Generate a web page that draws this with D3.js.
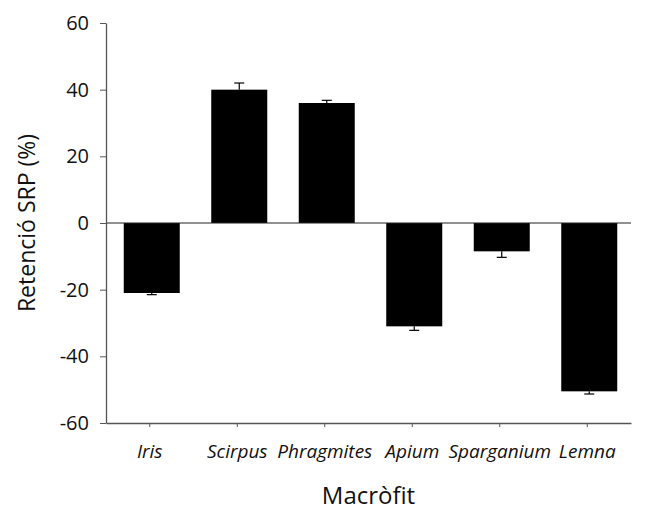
<!DOCTYPE html>
<html>
<head>
<meta charset="utf-8">
<script src="https://cdn.jsdelivr.net/npm/d3@7"></script>
<style>
body { margin: 0; background: #fff; }
svg text { font-family: "Open Sans", "DejaVu Sans", sans-serif; fill: #111; }
</style>
</head>
<body>
<div id="chart"></div>
<script>
var categories = ["Iris", "Scirpus", "Phragmites", "Apium", "Sparganium", "Lemna"];
var retention = [-21, 40, 36, -31, -8.5, -50.5];
var errors = [0.5, 2, 0.8, 1.2, 1.8, 0.8];
var yTicks = [-60, -40, -20, 0, 20, 40, 60];

var WIDTH = 655, HEIGHT = 510;
var margin = {top: 23, right: 24, bottom: 87, left: 106};

var svg = d3.select("#chart").append("svg")
    .attr("width", WIDTH)
    .attr("height", HEIGHT);

var x = d3.scaleBand()
    .domain(categories)
    .range([margin.left, WIDTH - margin.right])
    .paddingInner(0.36)
    .paddingOuter(0.18);

var y = d3.scaleLinear()
    .domain([-60, 60])
    .range([HEIGHT - margin.bottom, margin.top]);

var data = categories.map(function(c, i){
    return {name: c, value: retention[i], err: errors[i]};
});

// bars
svg.append("g").selectAll("rect")
    .data(data)
    .enter().append("rect")
    .attr("x", function(d){ return x(d.name) + 2; })
    .attr("width", x.bandwidth())
    .attr("y", function(d){ return y(Math.max(0, d.value)); })
    .attr("height", function(d){ return Math.abs(y(d.value) - y(0)); })
    .attr("fill", "#000");

// error bars (outward only)
var eb = svg.append("g").attr("stroke", "#000").attr("stroke-width", 1.2);
data.forEach(function(d){
    var cx = x(d.name) + 2 + x.bandwidth() / 2;
    var tip = d.value >= 0 ? d.value + d.err : d.value - d.err;
    eb.append("line").attr("x1", cx).attr("x2", cx)
        .attr("y1", y(d.value)).attr("y2", y(tip));
    eb.append("line").attr("x1", cx - 5).attr("x2", cx + 5)
        .attr("y1", y(tip)).attr("y2", y(tip));
});

// zero line
svg.append("line")
    .attr("x1", margin.left).attr("x2", WIDTH - margin.right)
    .attr("y1", y(0)).attr("y2", y(0))
    .attr("stroke", "#222").attr("stroke-width", 1.2);

// y axis
var yAxis = svg.append("g")
    .attr("transform", "translate(" + margin.left + ",0)")
    .call(d3.axisLeft(y).tickValues(yTicks).tickFormat(function(d){ return String(d); })
        .tickSize(6).tickPadding(11).tickSizeOuter(0));
yAxis.select(".domain").attr("stroke", "#555").attr("stroke-width", 1.3);
yAxis.selectAll(".tick line").attr("stroke", "#555");
yAxis.selectAll("text").style("font-size", "20px").attr("fill", "#111");

// x axis
var xAxis = svg.append("g")
    .attr("transform", "translate(0," + y(-60) + ")")
    .call(d3.axisBottom(x).tickSize(4).tickPadding(18).tickSizeOuter(0));
xAxis.select(".domain").attr("stroke", "#555").attr("stroke-width", 1.3);
xAxis.selectAll(".tick line").attr("stroke", "#555");
xAxis.selectAll("text").style("font-size", "19px").style("font-style", "italic").attr("fill", "#111");

// axis titles
svg.append("text")
    .attr("x", (margin.left + WIDTH - margin.right) / 2)
    .attr("y", 504)
    .attr("text-anchor", "middle")
    .style("font-size", "24px")
    .text("Macròfit");

svg.append("text")
    .attr("transform", "translate(35," + y(0) + ") rotate(-90)")
    .attr("text-anchor", "middle")
    .style("font-size", "23px")
    .text("Retenció SRP (%)");
</script>
</body>
</html>
